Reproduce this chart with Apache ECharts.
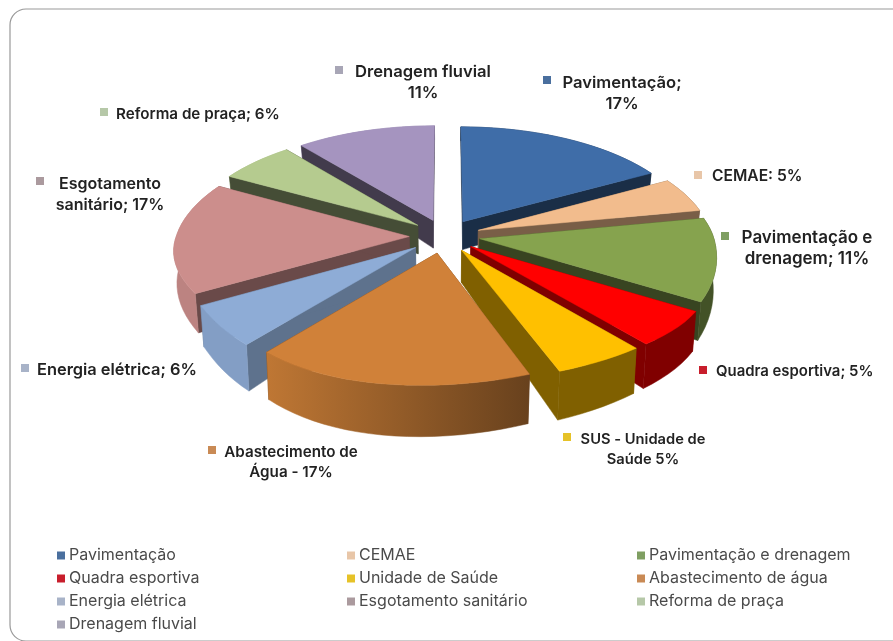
<!DOCTYPE html>
<html><head><meta charset="utf-8">
<style>html,body{margin:0;padding:0;background:#fff}#c{width:893px;height:641px}</style>
<script src="https://cdn.jsdelivr.net/npm/echarts@6/dist/echarts.min.js"></script>
</head><body><div id="c"></div>
<script>
// Obras por tipo, em percentual
const names = ['Pavimentação','CEMAE','Pavimentação e drenagem','Quadra esportiva','Unidade de Saúde','Abastecimento de água','Energia elétrica','Esgotamento sanitário','Reforma de praça','Drenagem fluvial'];
const values = [17,5,11,5,5,17,6,17,6,11];
const colors = ['#3f6da8','#f2bc8d','#86a34e','#ff0000','#ffc000','#d08139','#8eacd6','#cc8e8c','#b5cb8f','#a594bf'];
const swatches = ['#4a6f9e','#e8c6a8','#7f9f62','#c81e2c','#e6c228','#c98a55','#a8b3c8','#ab9a9e','#b6c8a8','#a8a6b6'];
const sideShade = [0.42,0.5,0.42,0.5,0.5,0.5,0.66,0.52,0.38,0.4];
const legendColumns = [[0,3,6,9],[1,4,7],[2,5,8]];

const FONT = 'Inter';
const view = {cx:445, cy:236, A:233, B:110.4, B2:128, p:0.128, q:0.012, d0:30, explode:0.153, skew:30, roll:8};
const total = values.reduce((a,b)=>a+b,0);
const starts = values.map((_,i)=>values.slice(0,i).reduce((a,b)=>a+b,0));

// Projeção em perspectiva do disco: face superior e face inferior
function project(u,v,bottom){
  const w = 1 + view.p*v + (bottom?view.q:0);
  const lean = view.skew*Math.max(0,1-u*u)*Math.min(0,v);
  const roll = view.roll*u*Math.min(1,Math.max(0,-v*1.5));
  return [view.cx + view.A*u/w + lean, (bottom ? view.cy+view.d0-view.B2*v/w : view.cy-view.B*v/w) + roll];
}
function mix(hex,f){
  const n=parseInt(hex.slice(1),16);
  return 'rgb('+[(n>>16)&255,(n>>8)&255,n&255].map(c=>Math.round(c*f)).join(',')+')';
}
function rimShade(deg){ return Math.min(0.92,Math.max(0.5,0.5+0.42*(deg-165)/50)); }

function renderSlice(color,shade){
  return function(params,api){
    const a0=api.value(0)/total*Math.PI*2, a1=(api.value(0)+api.value(1))/total*Math.PI*2, m=(a0+a1)/2;
    const ou=view.explode*Math.sin(m), ov=view.explode*Math.cos(m);
    const n=Math.max(2,Math.ceil((a1-a0)/0.05));
    const top=[],bot=[];
    for(let i=0;i<=n;i++){
      const t=a0+(a1-a0)*i/n, u=ou+Math.sin(t), v=ov+Math.cos(t);
      top.push(project(u,v,false)); bot.push(project(u,v,true));
    }
    const apexT=project(ou,ov,false), apexB=project(ou,ov,true);
    const sideFill=mix(color,shade);
    const poly=(pts,fill)=>({type:'polygon',shape:{points:pts},style:{fill:fill,stroke:fill,lineWidth:0.5}});
    const sides=[poly([apexT,top[0],bot[0],apexB],sideFill),poly([apexT,top[n],bot[n],apexB],sideFill)];
    const leftFirst=top[0][0]<top[n][0];
    const dl=(leftFirst?a0:a1)*180/Math.PI, dr=(leftFirst?a1:a0)*180/Math.PI;
    const grad=new echarts.graphic.LinearGradient(0,0,1,0,[{offset:0,color:mix(color,rimShade(dl))},{offset:1,color:mix(color,rimShade(dr))}]);
    const rim=poly(top.concat(bot.slice().reverse()),grad);
    const face=poly([apexT].concat(top),color);
    const kids=Math.cos(m)>0?[rim].concat(sides,[face]):sides.concat([rim,face]);
    return {type:'group',children:kids};
  };
}

// Fatias de trás para a frente
const order=values.map((_,i)=>i).sort((a,b)=>{
  const mid=i=>(starts[i]+values[i]/2)/total*Math.PI*2;
  return Math.cos(mid(b))-Math.cos(mid(a));
});
const zOf={}; order.forEach((i,k)=>zOf[i]=k+2);
const series=names.map((name,i)=>({
  type:'custom',name:name,coordinateSystem:'none',z:zOf[i],silent:true,
  itemStyle:{color:colors[i]},
  data:[[starts[i],values[i]]],
  renderItem:renderSlice(colors[i],sideShade[i])
}));

// Rótulos das fatias
const labelLayout=[
 {t:'Drenagem fluvial\n11%',c:9,mx:339,my:70,x:423,y:72,a:'center',s:16.6},
 {t:'Pavimentação;\n17%',c:0,mx:547,my:80,x:622,y:83,a:'center',s:16.6},
 {t:'Reforma de praça; 6%',c:8,mx:104,my:112,x:116,y:114,a:'left',s:15.2},
 {t:'CEMAE: 5%',c:1,mx:698,my:175,x:712,y:176,a:'left',s:15.6},
 {t:'Pavimentação e\ndrenagem; 11%',c:2,mx:725,my:236,x:807,y:238,a:'center',s:17},
 {t:'Esgotamento\nsanitário; 17%',c:7,mx:40,my:181,x:110,y:184,a:'center',s:16},
 {t:'Energia elétrica; 6%',c:6,mx:25,my:368,x:37,y:370,a:'left',s:16.4},
 {t:'Quadra esportiva; 5%',c:3,mx:703,my:370,x:716,y:371,a:'left',s:14.9},
 {t:'SUS - Unidade de\nSaúde 5%',c:4,mx:567,my:437,x:643,y:439,a:'center',s:14.7},
 {t:'Abastecimento de\nÁgua - 17%',c:5,mx:212,my:450,x:291,y:452,a:'center',s:15.2}
];
const graphic=[{type:'rect',z:0,shape:{x:10,y:9,width:900,height:632,r:16},style:{fill:'#fff',stroke:'#999',lineWidth:1.2}}];
labelLayout.forEach(l=>{
  graphic.push({type:'rect',z:50,shape:{x:l.mx-4,y:l.my-4,width:8,height:8},style:{fill:swatches[l.c]}});
  graphic.push({type:'text',z:50,x:l.x,y:l.y-10,style:{text:l.t,fill:'#222',font:'600 '+l.s+'px '+FONT,lineHeight:20.5,align:l.a,verticalAlign:'top'}});
});

const legendLeft=[57,347,637];
const legend=legendColumns.map((col,k)=>({
  orient:'vertical',left:legendLeft[k],top:547,icon:'rect',itemWidth:8,itemHeight:8,itemGap:6,
  padding:0,selectedMode:false,
  data:col.map(i=>({name:names[i],itemStyle:{color:swatches[i]}})),
  textStyle:{fontFamily:FONT,fontSize:16,color:'#4a4a4a',lineHeight:17,padding:[0,0,0,-1]}
}));

const chart=echarts.init(document.getElementById('c'),null,{renderer:'canvas'});
chart.setOption({animation:false,backgroundColor:'#fff',legend,series,graphic});
</script></body></html>
